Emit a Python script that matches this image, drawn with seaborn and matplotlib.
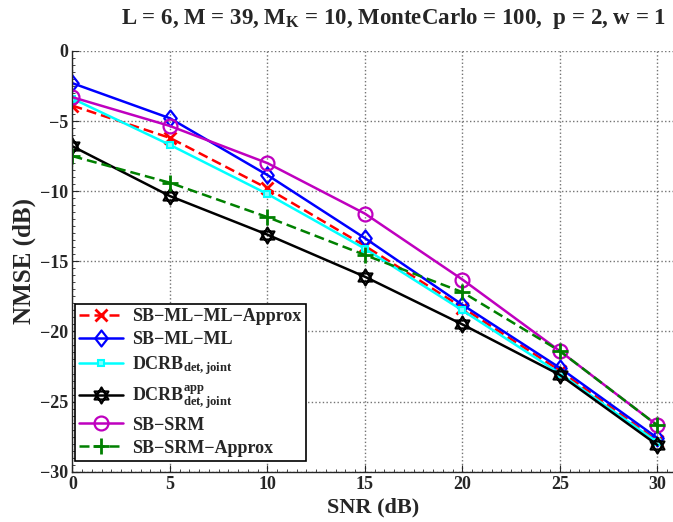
import matplotlib
matplotlib.use("Agg")
import matplotlib.pyplot as plt
import seaborn as sns
import numpy as np
from matplotlib.ticker import MultipleLocator
from matplotlib.path import Path

snr = [0, 5, 10, 15, 20, 25, 30]
sbmlml_approx = [-3.9, -6.2, -9.8, -13.9, -18.3, -22.8, -27.8]
sbmlml = [-2.3, -4.8, -8.85, -13.35, -18.1, -22.6, -27.6]
dcrb = [-3.4, -6.7, -10.2, -14.1, -18.5, -23.0, -27.9]
dcrb_app = [-6.8, -10.35, -13.1, -16.1, -19.5, -23.1, -28.1]
sbsrm = [-3.3, -5.35, -8.0, -11.6, -16.3, -21.4, -26.7]
sbsrm_approx = [-7.5, -9.4, -11.85, -14.55, -17.2, -21.4, -26.7]

labels = ["SB\u2212ML\u2212ML\u2212Approx", "SB\u2212ML\u2212ML",
          r"DCRB$_{\mathrm{det,joint}}$",
          r"DCRB$^{\mathrm{app}}_{\mathrm{det,joint}}$",
          "SB\u2212SRM", "SB\u2212SRM\u2212Approx"]
title = r"L = 6, M = 39, M$_{\mathrm{K}}$ = 10, MonteCarlo = 100,  p = 2, w = 1"

# marker shapes (Matlab-like diamond and hexagram)
diamond = Path([(0, 1), (0.78, 0), (0, -1), (-0.78, 0), (0, 1)],
               [Path.MOVETO, Path.LINETO, Path.LINETO, Path.LINETO, Path.CLOSEPOLY])
s3 = np.sqrt(3) / 2
hexagram = Path([(0, 1), (s3, -0.5), (-s3, -0.5), (0, 1),
                 (0, -1), (s3, 0.5), (-s3, 0.5), (0, -1)],
                [Path.MOVETO, Path.LINETO, Path.LINETO, Path.CLOSEPOLY,
                 Path.MOVETO, Path.LINETO, Path.LINETO, Path.CLOSEPOLY])

sns.set_style("ticks")
plt.rcParams["font.family"] = ["Liberation Serif", "DejaVu Serif"]
plt.rcParams["font.weight"] = "bold"
plt.rcParams["mathtext.fontset"] = "custom"
plt.rcParams["mathtext.rm"] = "Liberation Serif:bold"
plt.rcParams["mathtext.it"] = "Liberation Serif:bold"
plt.rcParams["mathtext.bf"] = "Liberation Serif:bold"
plt.rcParams["xtick.direction"] = "in"
plt.rcParams["ytick.direction"] = "in"

fig = plt.figure(figsize=(6.73, 5.22), dpi=100)
ax = fig.add_axes([0.1077, 0.0964, 0.8923, 0.806])

dash = (0, (4, 2))
series = [
    (sbmlml_approx, dict(color=(1, 0, 0), marker="x", linestyle=dash, markersize=8,
                         markeredgewidth=2, markerfacecolor=(1, 0, 0))),
    (sbmlml, dict(color=(0, 0, 1), marker=diamond, linestyle="-", markersize=11.5,
                  markerfacecolor="none", markeredgewidth=1.6)),
    (dcrb, dict(color=(0, 1, 1), marker="s", linestyle="-", markersize=4.5,
                markerfacecolor=(0.5, 1, 1), markeredgewidth=1.5)),
    (dcrb_app, dict(color=(0, 0, 0), marker=hexagram, linestyle="-", markersize=11.5,
                    markerfacecolor="none", markeredgewidth=1.6)),
    (sbsrm, dict(color=(0.75, 0, 0.75), marker="o", linestyle="-", markersize=10,
                 markerfacecolor="none", markeredgewidth=1.6)),
    (sbsrm_approx, dict(color=(0, 0.5, 0), marker="+", linestyle=dash, markersize=11,
                        markeredgewidth=2, markerfacecolor=(0, 0.5, 0))),
]
for (vals, kw), lab in zip(series, labels):
    sns.lineplot(x=snr, y=vals, ax=ax, label=lab, color=kw["color"], linewidth=1.8)
    line = ax.lines[-1]
    line.set_marker(kw["marker"])
    line.set_markersize(kw["markersize"])
    line.set_markeredgecolor(kw["color"])
    line.set_markerfacecolor(kw["markerfacecolor"])
    line.set_markeredgewidth(kw["markeredgewidth"])
    line.set_linestyle(kw["linestyle"])
    line.set_linewidth(1.8)

ax.set_xlim(0, 30.8)
ax.set_ylim(-30, 0)
ax.xaxis.set_major_locator(MultipleLocator(5))
ax.yaxis.set_major_locator(MultipleLocator(5))
ax.xaxis.set_minor_locator(MultipleLocator(0.5))
ax.yaxis.set_minor_locator(MultipleLocator(0.5))
ax.tick_params(which="major", length=5, labelsize=13, pad=3)
ax.tick_params(which="minor", length=2.5)
ax.grid(True, which="major", linestyle=":", color="0.45", linewidth=1)
sns.despine(ax=ax)
ax.spines["left"].set_linewidth(1)
ax.spines["bottom"].set_linewidth(1)

ax.set_xlabel("SNR (dB)", fontsize=16, fontweight="bold", labelpad=3)
ax.set_ylabel("NMSE (dB)", fontsize=18, fontweight="bold", labelpad=3)
fig.text(0.585, 0.965, title, ha="center", va="center", fontsize=16.5, fontweight="bold")

leg = ax.legend(loc="lower left", bbox_to_anchor=(0.004, 0.025), fontsize=13,
                frameon=True, fancybox=False, edgecolor="black", framealpha=1,
                borderpad=0.25, labelspacing=0.33, handlelength=2.4, handletextpad=0.5,
                borderaxespad=0)
leg.get_frame().set_linewidth(1.2)

fig.savefig("out.png", dpi=100)
